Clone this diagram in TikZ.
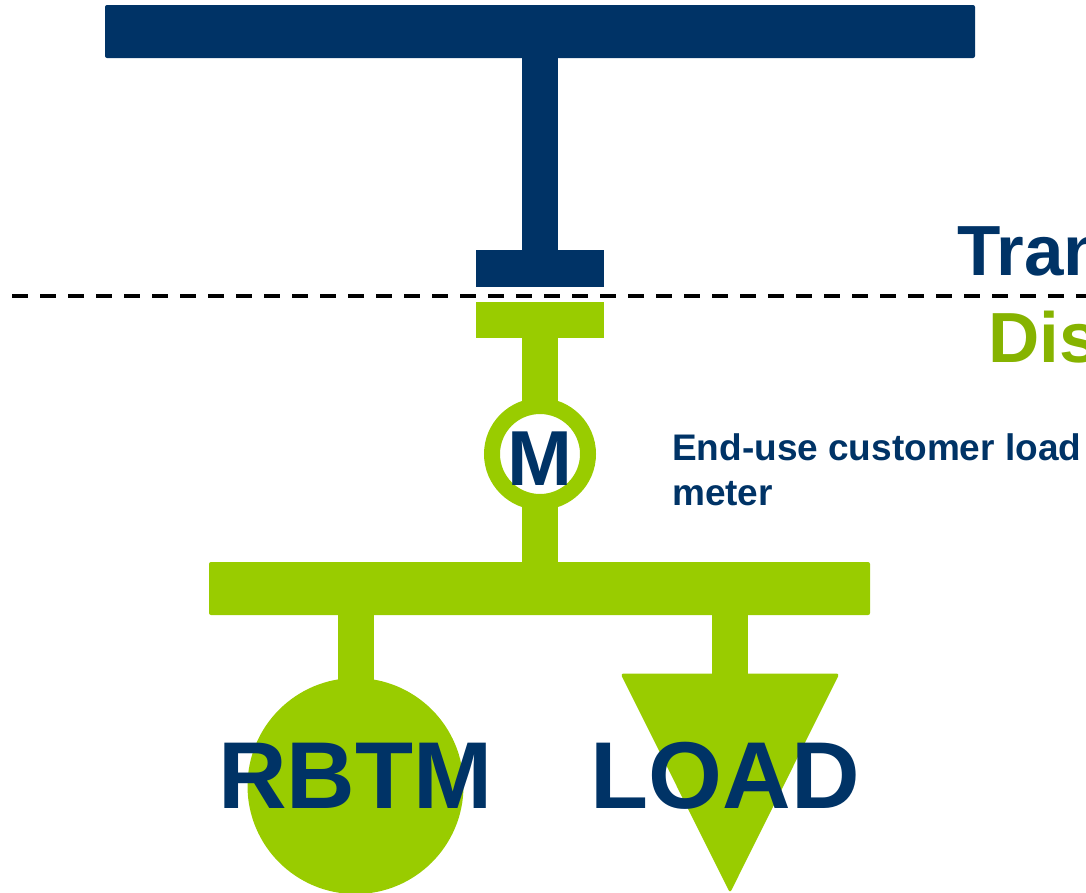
\documentclass[tikz,border=0pt]{standalone}
\usepackage{fontspec}
\setmainfont{Liberation Sans}
\definecolor{navy}{HTML}{003366}
\definecolor{lime}{HTML}{99CC00}
\definecolor{olive}{HTML}{86B300}
\tikzset{
    bus/.style = {rectangle, inner sep = 0pt, outer sep = 0pt, rounded corners = 2pt},
    stem/.style = {line width = 36pt},
    name text/.style = {font = \bfseries\fontsize{95}{95}\selectfont, text = navy, inner sep = 0pt, anchor = base},
    side text/.style = {font = \bfseries\fontsize{37}{37}\selectfont, text = navy, inner sep = 0pt, anchor = base west},
    level text/.style = {font = \bfseries\fontsize{71}{71}\selectfont, inner sep = 0pt, anchor = base west}
}
\begin{document}
\begin{tikzpicture}[x = 1pt, y = -1pt]
        \useasboundingbox (0,0) rectangle (1086,892);

        \node (topbus) at (540, 31.5) [bus, fill = navy, minimum width = 870pt, minimum height = 53pt] {};
        \node (navyblock) at (540, 268.5) [bus, fill = navy, rounded corners = 0pt, minimum width = 128pt, minimum height = 37pt] {};
        \node (limeblock) at (540, 320) [bus, fill = lime, rounded corners = 0pt, minimum width = 128pt, minimum height = 36pt] {};
        \node (lowbus) at (539.5, 588.5) [bus, fill = lime, minimum width = 661pt, minimum height = 53pt] {};
        \node (meter) at (540, 454) [circle, draw = lime, fill = white, line width = 16pt, inner sep = 0pt, outer sep = 0pt, minimum size = 96pt] {};
        \node (rbtm) at (355.5, 786) [circle, fill = lime, inner sep = 0pt, outer sep = 0pt, minimum size = 216pt] {};
        \coordinate (loadtop) at (730, 680);

        \draw [stem, navy] (topbus.south -| navyblock.north) -- (navyblock.north);
        \draw [stem, lime] (limeblock.south) -- (meter.north);
        \draw [stem, lime] (meter.south) -- (meter.south |- lowbus.north);
        \draw [stem, lime] (rbtm.north |- lowbus.south) -- (rbtm.center);
        \draw [stem, lime] (loadtop |- lowbus.south) -- (loadtop);
        \fill [lime, rounded corners = 3pt] (620.5,673.5) -- (839.5,673.5) -- (730,893) -- cycle;

        % boundary line
        \coordinate (lineleft) at (12, 295.5);
        \coordinate (lineright) at (1086, 295.5);
        \draw [line width = 4pt, dash pattern = on 16pt off 12pt] (lineleft) -- (lineright);

        \node (metertext) at (540, 485) [name text, font = \bfseries\fontsize{78}{78}\selectfont] {M};
        \node (rbtmtext) at (355.5, 808) [name text] {RBTM};
        \node (loadtext) at (725.5, 808) [name text] {LOAD};
        \node (trantext) at (957, 275) [level text, text = navy] {Tran};
        \node (distext) at (988, 362) [level text, text = olive] {Dis};
        \node (usetext) at (672, 460) [side text] {End-use customer load};
        \node (usetext2) at (672, 505) [side text] {meter};
    \end{tikzpicture}
\end{document}
